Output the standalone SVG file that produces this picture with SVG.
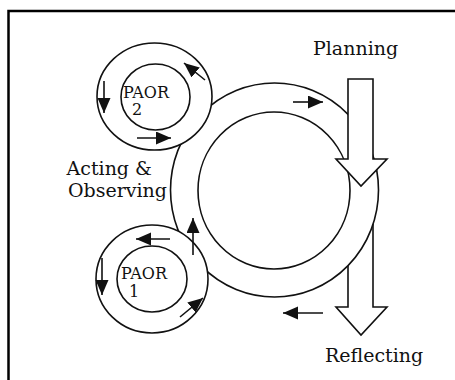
<svg xmlns="http://www.w3.org/2000/svg" width="455" height="380" viewBox="0 0 455 380">
<defs>
<marker id="ah" markerUnits="userSpaceOnUse" markerWidth="16" markerHeight="14" refX="15" refY="6.5" orient="auto" viewBox="0 0 16 14">
<path d="M0,0 L15,6.5 L0,13 z" fill="#111"/>
</marker>
<style>
.ring{fill:#fff;stroke:#111;stroke-width:1.6}
.big{fill:#fff;stroke:#111;stroke-width:1.6;stroke-linejoin:miter}
.sm{stroke:#111;stroke-width:1.6;fill:none;marker-end:url(#ah)}
.lbl{font-family:"DejaVu Serif","Liberation Serif",serif;font-size:19px;fill:#111}
.pa{font-family:"DejaVu Serif","Liberation Serif",serif;font-size:16px;fill:#111}
</style>
</defs>
<rect width="455" height="380" fill="#fff"/>
<path d="M8.5,380 V11 H455" fill="none" stroke="#000" stroke-width="2.5"/>
<g id="reflecting-arrow">
<polygon class="big" points="348,200 373,200 373,307 387,307 361,335 336,307 348,307"/>
</g>
<g id="main-cycle">
<ellipse class="ring" cx="274.5" cy="190" rx="104" ry="107"/>
<ellipse class="ring" cx="274" cy="190.5" rx="76" ry="78.5"/>
</g>
<g id="planning-arrow">
<polygon class="big" points="348,79 373,79 373,159 387,159 361,186 336,159 348,159"/>
</g>
<g id="paor2">
<ellipse class="ring" cx="154.5" cy="96.5" rx="57.5" ry="53.5"/>
<ellipse class="ring" cx="155.5" cy="97" rx="34.5" ry="33"/>
<text class="pa" x="123" y="98">PAOR</text>
<text class="pa" x="132" y="115">2</text>
</g>
<g id="paor1">
<ellipse class="ring" cx="152" cy="279" rx="56" ry="54"/>
<ellipse class="ring" cx="152" cy="279" rx="35" ry="33"/>
<text class="pa" x="121" y="279">PAOR</text>
<text class="pa" x="129" y="297">1</text>
</g>
<g id="connectors">
<line class="sm" x1="293" y1="102" x2="323" y2="102"/>
<line class="sm" x1="323" y1="313" x2="283" y2="313"/>
<line class="sm" x1="193" y1="255" x2="193" y2="218"/>
<line class="sm" x1="104" y1="81" x2="104" y2="113"/>
<line class="sm" x1="137" y1="138" x2="171" y2="138"/>
<line class="sm" x1="205" y1="80" x2="184" y2="63"/>
<line class="sm" x1="102" y1="258" x2="102" y2="295"/>
<line class="sm" x1="170" y1="239" x2="136" y2="239"/>
<line class="sm" x1="180" y1="317" x2="203" y2="298"/>
</g>
<g id="labels">
<text class="lbl" x="313" y="55">Planning</text>
<text class="lbl" x="325" y="362">Reflecting</text>
<text class="lbl" x="152" y="175" text-anchor="end">Acting &amp;</text>
<text class="lbl" x="167" y="197" text-anchor="end">Observing</text>
</g>
</svg>
